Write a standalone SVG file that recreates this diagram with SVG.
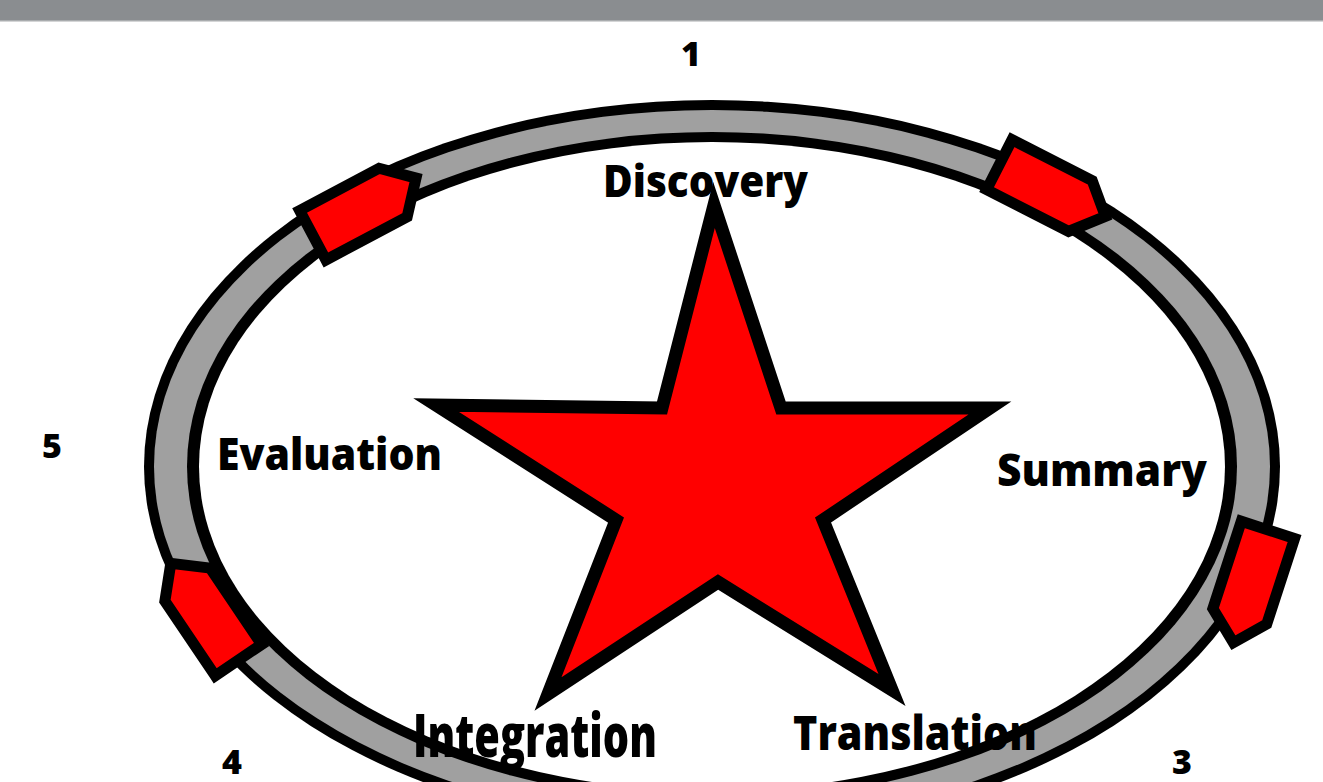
<svg xmlns="http://www.w3.org/2000/svg" width="1323" height="782" viewBox="0 0 1323 782">
<style>
.lbl{font-family:"Open Sans","Liberation Sans",sans-serif;font-weight:800;fill:#000}
.num{font-family:"Open Sans","Liberation Sans",sans-serif;font-weight:800;font-size:34px;fill:#000;text-anchor:middle}
.arrow{fill:#ff0000;stroke:#000;stroke-width:11;stroke-linejoin:miter}
</style>
<defs>
<path id="pent" d="M-58,-28 L32,-28 L60,-2 L34,28 L-58,28 Z"/>
</defs>
<rect x="0" y="0" width="1323" height="21" fill="#8a8d90"/>
<rect x="0" y="20" width="1323" height="1.5" fill="#a9acae"/>
<g id="ring">
<ellipse cx="712" cy="466.5" rx="568" ry="366.5" fill="#000"/>
<ellipse cx="712" cy="466.5" rx="558" ry="356.5" fill="#a0a0a0"/>
<ellipse cx="712" cy="466.5" rx="525" ry="334.5" fill="#000"/>
<ellipse cx="712" cy="466.5" rx="513" ry="324.5" fill="#fff"/>
</g>
<g id="star">
<path d="M714,205 L781,408 L990,408 L823,520 L892,690 L718,582 L548,694 L616,520 L436,405 L662,408 Z" fill="#ff0000" stroke="#000" stroke-width="13" stroke-linejoin="miter" stroke-miterlimit="10"/>
</g>
<g id="connectors">
<use href="#pent" class="arrow" transform="translate(364,208) rotate(-28)"/>
<use href="#pent" class="arrow" transform="translate(1051,191) rotate(27)"/>
<use href="#pent" class="arrow" transform="translate(1250,585) rotate(108)"/>
<use href="#pent" class="arrow" transform="translate(206,612) rotate(-124)"/>
</g>
<g id="node-discovery"><text class="lbl" x="603" y="197" font-size="44" textLength="205" lengthAdjust="spacingAndGlyphs">Discovery</text></g>
<g id="node-evaluation"><text class="lbl" x="217" y="470" font-size="44" textLength="225" lengthAdjust="spacingAndGlyphs">Evaluation</text></g>
<g id="node-summary"><text class="lbl" x="997" y="486" font-size="45" textLength="210" lengthAdjust="spacingAndGlyphs">Summary</text></g>
<g id="node-integration"><text class="lbl" x="413" y="757" font-size="60" textLength="244" lengthAdjust="spacingAndGlyphs">Integration</text></g>
<g id="node-translation"><text class="lbl" x="793" y="750" font-size="48" textLength="244" lengthAdjust="spacingAndGlyphs">Translation</text></g>
<g id="numbers">
<text class="num" x="691" y="66">1</text>
<text class="num" x="52" y="458">5</text>
<text class="num" x="232" y="774">4</text>
<text class="num" x="1182" y="774">3</text>
</g>
</svg>
